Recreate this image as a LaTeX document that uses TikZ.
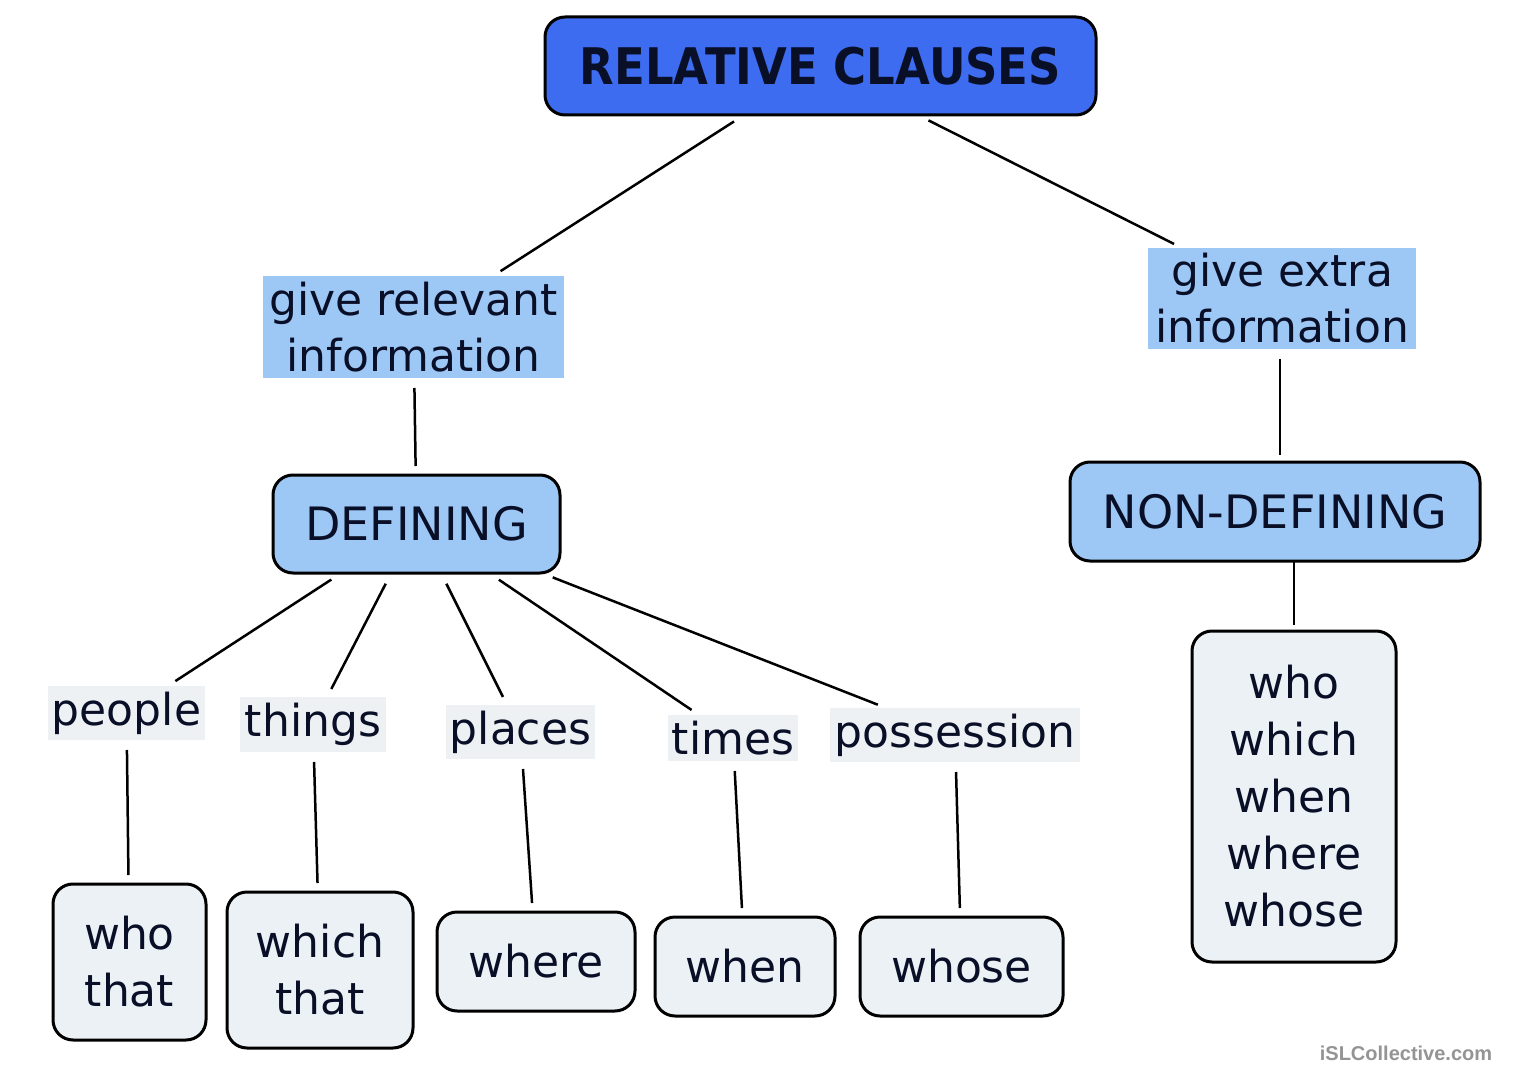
\documentclass[tikz,border=0pt]{standalone}
\usepackage{fontspec}
\setmainfont{DejaVu Sans}
\newfontfamily\wmfont{Liberation Sans}
\definecolor{titleblue}{RGB}{61,108,240}
\definecolor{lightblue}{RGB}{157,200,245}
\definecolor{paleblue}{RGB}{235,241,245}
\definecolor{labelgray}{RGB}{238,241,243}
\definecolor{inkblue}{RGB}{10,15,40}
\begin{document}
\begin{tikzpicture}[x=1pt,y=-1pt,
  every node/.style={text=inkblue, inner sep=0pt, outer sep=0pt, align=center},
  roundbox/.style={draw=black, line width=3pt, rounded corners=20pt},
  titlebox/.style={roundbox, fill=titleblue, font=\fontsize{45}{54}\bfseries\selectfont},
  typebox/.style={roundbox, fill=lightblue, font=\fontsize{46}{56}\selectfont},
  infobox/.style={fill=lightblue, font=\fontsize{44}{56}\selectfont},
  labelbox/.style={fill=labelgray, font=\fontsize{44}{56}\selectfont},
  wordbox/.style={roundbox, fill=paleblue, font=\fontsize{44}{57}\selectfont},
  link/.style={draw=black, line width=2.5pt, shorten <=10pt, shorten >=9pt}]
\useasboundingbox (0,0) rectangle (1532,1083);
\fill[white] (0,0) rectangle (1532,1083);

\node[titlebox, minimum width=551pt, minimum height=98pt] (title) at (820.5,66) {\scalebox{1}[1.12]{RELATIVE CLAUSES}};

\node[infobox, minimum width=301pt, minimum height=102pt] (rel) at (413.5,327) {give relevant\\information};
\node[infobox, minimum width=268pt, minimum height=101pt] (ext) at (1282,298.5) {give extra\\information};

\node[typebox, minimum width=287pt, minimum height=98pt] (def) at (416.5,524) {DEFINING};
\node[typebox, minimum width=410pt, minimum height=99pt] (nondef) at (1275,511.5) {NON-DEFINING};

\node[wordbox, minimum width=204pt, minimum height=331pt] (list) at (1294,796.5) {who\\which\\when\\where\\whose};

\node[labelbox, minimum width=157pt, minimum height=54pt] (people) at (126.5,713) {people};
\node[labelbox, minimum width=146pt, minimum height=55pt] (things) at (313,724.5) {things};
\node[labelbox, minimum width=149pt, minimum height=54pt] (places) at (520.5,732) {places};
\node[labelbox, minimum width=130pt, minimum height=46pt] (times) at (733,738) {times};
\node[labelbox, minimum width=250pt, minimum height=54pt] (poss) at (955,735) {possession};

\node[wordbox, minimum width=153pt, minimum height=156pt] (whothat) at (129.5,962) {who\\that};
\node[wordbox, minimum width=186pt, minimum height=156pt] (whichthat) at (320,970) {which\\that};
\node[wordbox, minimum width=198pt, minimum height=99pt] (where) at (536,961.5) {where};
\node[wordbox, minimum width=180pt, minimum height=99pt] (when) at (745,966.5) {when};
\node[wordbox, minimum width=203pt, minimum height=99pt] (whose) at (961.5,966.5) {whose};

\node[text=black!42, font=\wmfont\fontsize{20}{23}\bfseries\selectfont] (wm) at (1406,1053) {iSLCollective.com};

\draw[link, shorten <=12pt] (title) -- (rel);
\draw[link, shorten <=12pt] (title) -- (ext);
\draw[link] (rel) -- (def);
\draw[link, shorten >=7pt] (ext.south -| 1280,0) -- (nondef.north -| 1280,0);
\draw[link, shorten <=0pt, shorten >=6pt] (nondef.south -| list.north) -- (list.north);
\draw[link, shorten <=12pt] (def) -- (people);
\draw[link, shorten <=12pt] (def) -- (things);
\draw[link, shorten <=12pt] (def) -- (places);
\draw[link, shorten <=12pt] (def) -- (times);
\draw[link, shorten <=12pt] (def) -- (poss);
\draw[link] (people) -- (whothat);
\draw[link] (things) -- (whichthat);
\draw[link] (places) -- (where);
\draw[link] (times) -- (when);
\draw[link] (poss) -- (whose);
\end{tikzpicture}
\end{document}
